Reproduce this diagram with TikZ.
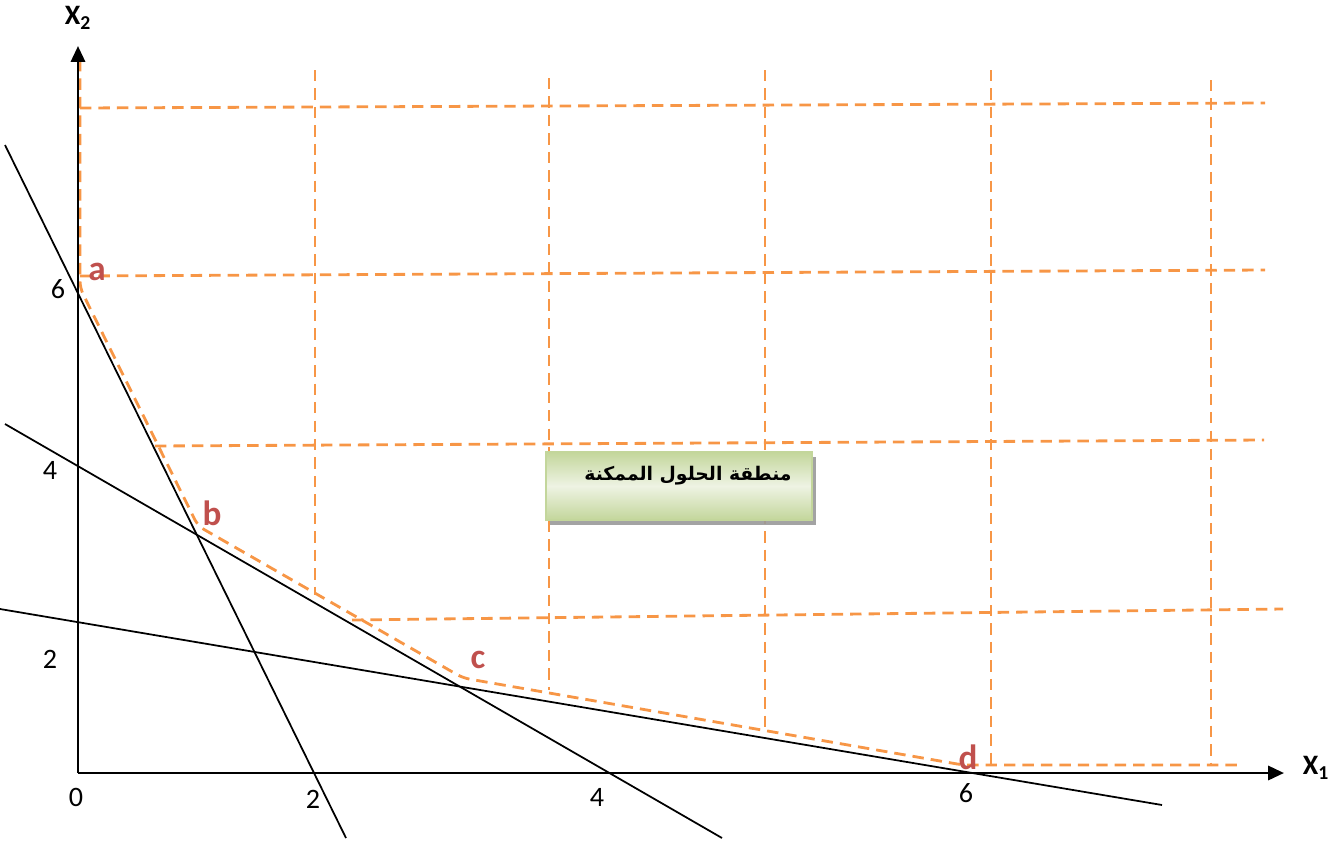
\documentclass[tikz,border=0pt]{standalone}
\usepackage{fontspec}
\setmainfont{Carlito}
\newfontfamily\arabicfont[Script=Arabic]{DejaVu Sans}
\TeXXeTstate=1
\usetikzlibrary{arrows.meta, shadows}
\definecolor{gridorange}{HTML}{F79646}
\definecolor{pointred}{HTML}{C0504D}
\definecolor{boxgreen}{HTML}{C3D69B}
\definecolor{boxlight}{HTML}{EEF3E3}
\tikzset{
  axis/.style={line width=1.6pt, -{Triangle[length=9pt, width=8pt]}},
  constraint/.style={line width=1pt},
  griddash/.style={gridorange, line width=1.6pt, dash pattern=on 6.5pt off 4pt},
  ticklbl/.style={font=\fontsize{16}{19}\selectfont},
  pointlbl/.style={text=pointred, font=\fontsize{20}{24}\selectfont\bfseries},
  axislbl/.style={font=\fontsize{16}{19}\selectfont\bfseries},
  regionbox/.style={draw=boxgreen, line width=0.8pt, minimum width=5.32cm, minimum height=1.36cm,
    top color=boxgreen, bottom color=boxgreen, middle color=boxlight,
    drop shadow={shadow xshift=0.08cm, shadow yshift=-0.1cm, fill=gray!80, opacity=0.9}}
}
\begin{document}
\begin{tikzpicture}[x=0.02cm, y=-0.02cm]
      \useasboundingbox (0,0) rectangle (1334,842);
      % axes
      \coordinate (O) at (78,773);
      \coordinate (xend) at (1284,773);
      \coordinate (yend) at (78,46);
      \node[axislbl] (xlbl) at (1316,768) {X\textsubscript{1}};
      \node[axislbl] (ylbl) at (78,18) {X\textsubscript{2}};
      % feasible region grid
      \draw[griddash] (80,108) -- (1265,103);
      \draw[griddash] (80,276) -- (1265,270);
      \draw[griddash] (155,446) -- (1264,440);
      \draw[griddash] (352,620) -- (1283,609);
      \draw[griddash] (315,70) -- (315,595);
      \draw[griddash] (549,78) -- (549,690);
      \draw[griddash] (765,70) -- (765,730);
      \draw[griddash] (991,70) -- (991,765);
      \draw[griddash] (1211,80) -- (1211,765);
      % feasible region boundary
      \coordinate (top) at (80,60);
      \coordinate (a) at (80,288);
      \coordinate (b) at (198,526);
      \coordinate (c) at (463,678);
      \coordinate (d) at (963,765);
      \coordinate (dend) at (1240,765);
      \draw[griddash, rounded corners=4pt] (top) -- (a) -- (b) -- (c) -- (d) -- (dend);
      % constraints
      \coordinate (l1s) at (5,145);
      \coordinate (l1e) at (346,838);
      \coordinate (l2s) at (5,424);
      \coordinate (l2e) at (722,838);
      \coordinate (l3s) at (0,609);
      \coordinate (l3e) at (1162,805);
      \draw[constraint] (l1s) -- (l1e);
      \draw[constraint] (l2s) -- (l2e);
      \draw[constraint] (l3s) -- (l3e);
      \draw[axis] (O) -- (xend);
      \draw[axis] (O) -- (yend);
      % ticks
      \node[ticklbl] (x0) at (76,797) {0};
      \node[ticklbl] (x2) at (313,799) {2};
      \node[ticklbl] (x4) at (597,797) {4};
      \node[ticklbl] (x6) at (966,793) {6};
      \node[ticklbl] (y6) at (58,289) {6};
      \node[ticklbl] (y4) at (50,470) {4};
      \node[ticklbl] (y2) at (50,659) {2};
      % corner points
      \node[pointlbl] (lbla) at (97,272) {a};
      \node[pointlbl] (lblb) at (212,513) {b};
      \node[pointlbl] (lblc) at (478,660) {c};
      \node[pointlbl] (lbld) at (968,757) {d};
      % region label
      \node[regionbox] (region) at (679,486) {};
      \node[font=\fontsize{10.7}{13}\selectfont\bfseries] (regiontxt) at (688,476) {\arabicfont\beginR منطقة الحلول الممكنة\endR};
\end{tikzpicture}
\end{document}
